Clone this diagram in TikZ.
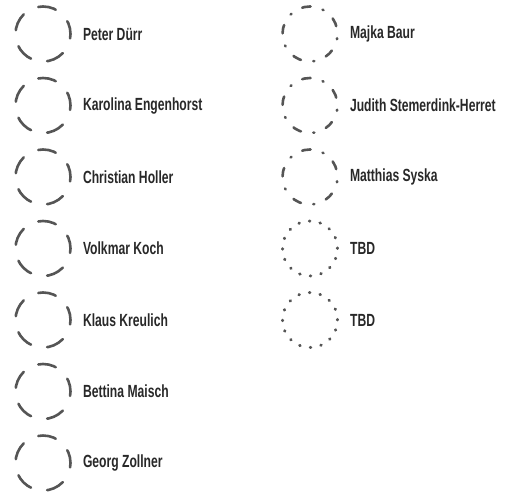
\documentclass[tikz,border=0pt]{standalone}
\usepackage{fontspec}
\usepackage{tikz}
\usepackage{xcolor}
\usetikzlibrary{positioning}
\setmainfont[FakeStretch=0.69]{Liberation Sans}
\definecolor{ringgray}{RGB}{85,85,85}
\definecolor{namegray}{RGB}{40,40,40}

\begin{document}
\begin{tikzpicture}[
  x=1pt, y=1pt,
  font=\fontsize{17.6}{20}\selectfont\bfseries,
  ring/.style={circle, draw=ringgray, line width=2.6pt, line cap=round, minimum size=55pt, inner sep=0pt},
  fixed/.style={ring, dash pattern=on 18pt off 16.56pt, dash phase=4.7pt},
  guest/.style={ring, dash pattern=on 8.5pt off 12.53pt on 1pt off 12.53pt, dash phase=26.56pt},
  vacant/.style={ring, line width=3pt, dash pattern=on 0.6pt off 10.2pt},
  person/.style={text=namegray, inner sep=0pt, anchor=west}
]
\useasboundingbox (0,0) rectangle (513,-492);
% left column
\node[fixed] (duerr) at (43,-34) {};
\node[fixed] (engenhorst) at (43,-105.5) {};
\node[fixed] (holler) at (43,-177) {};
\node[fixed] (koch) at (43,-248.5) {};
\node[fixed] (kreulich) at (43,-320) {};
\node[fixed] (maisch) at (43,-391.5) {};
\node[fixed] (zollner) at (43,-463) {};
\node[person, right=11pt of duerr] (duerrname) {Peter Dürr};
\node[person, right=11pt of engenhorst] (engenhorstname) {Karolina Engenhorst};
\node[person, right=11pt of holler] (hollername) {Christian Holler};
\node[person, right=11pt of koch] (kochname) {Volkmar Koch};
\node[person, right=11pt of kreulich] (kreulichname) {Klaus Kreulich};
\node[person, right=11pt of maisch] (maischname) {Bettina Maisch};
\node[person, right=11pt of zollner] (zollnername) {Georg Zollner};
% right column
\node[guest] (baur) at (310,-34) {};
\node[guest] (stemerdink) at (310,-105.5) {};
\node[guest] (syska) at (310,-177) {};
\node[vacant] (tbdone) at (310,-248.5) {};
\node[vacant] (tbdtwo) at (310,-320) {};
\node[person, right=11pt of baur] (baurname) {Majka Baur};
\node[person, right=11pt of stemerdink] (stemerdinkname) {Judith Stemerdink-Herret};
\node[person, right=11pt of syska] (syskaname) {Matthias Syska};
\node[person, right=11pt of tbdone] (tbdonename) {TBD};
\node[person, right=11pt of tbdtwo] (tbdtwoname) {TBD};
\end{tikzpicture}
\end{document}
